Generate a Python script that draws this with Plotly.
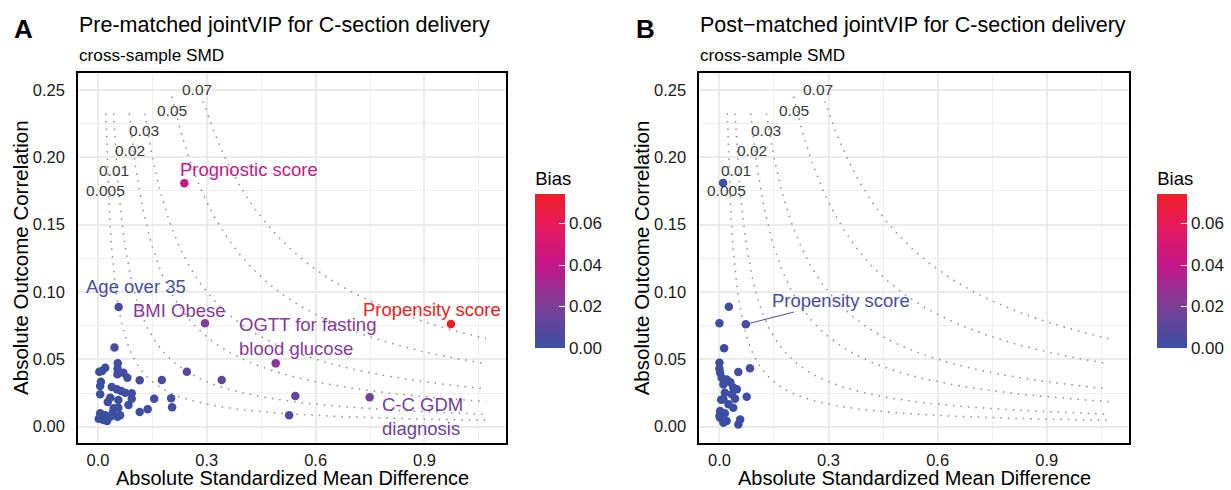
import plotly.graph_objects as go
from plotly.colors import sample_colorscale
import numpy as np

# ---------------- data ----------------
# Panel A (pre-matched): absolute SMD, absolute outcome correlation
smd_pre = [0.238, 0.057, 0.295, 0.490, 0.973, 0.749,
           0.245, 0.341, 0.544, 0.527, 0.0455, 0.176, 0.115, 0.155, 0.2016, 0.2043, 0.137, 0.115,
           0.020, 0.0036, 0.011, 0.0545, 0.0536, 0.070, 0.081, 0.008, 0.006, 0.038, 0.052, 0.064,
           0.075, 0.093, 0.006, 0.034, 0.027, 0.056, 0.093, 0.084, 0.056, 0.043, 0.006, 0.020,
           0.002, 0.025, 0.054, 0.061, 0.034, 0.054, 0.010, 0.015, 0.040]
cor_pre = [0.1807, 0.0889, 0.0768, 0.0470, 0.0763, 0.0218,
           0.0408, 0.0347, 0.0228, 0.0085, 0.0587, 0.0347, 0.0344, 0.0208, 0.0211, 0.0144, 0.0129, 0.0109,
           0.0438, 0.0408, 0.0413, 0.0470, 0.0389, 0.0401, 0.0364, 0.0334, 0.0302, 0.0295, 0.0277, 0.0265,
           0.0252, 0.0248, 0.0240, 0.0215, 0.0183, 0.0198, 0.0208, 0.0161, 0.0141, 0.0136, 0.0099, 0.0084,
           0.0059, 0.0042, 0.0074, 0.0084, 0.0074, 0.0430, 0.0070, 0.0050, 0.0100]
labels_pre = ["Prognostic score", "Age over 35", "BMI Obese", "OGTT for fasting<br>blood glucose",
              "Propensity score", "C-C GDM<br>diagnosis"]

# Panel B (post-matched)
smd_post = [0.010, 0.0725, 0.026, 0.000, 0.013,
            0.000, 0.000, 0.002, 0.052, 0.084, 0.006, 0.020, 0.011, 0.038, 0.048, 0.015, 0.034,
            0.075, 0.011, 0.043, 0.025, 0.038, 0.002, 0.015, 0.002, 0.020, 0.057, 0.052, 0.011,
            0.000, 0.030, 0.005]
cor_post = [0.1810, 0.0760, 0.0891, 0.0768, 0.0582,
            0.0475, 0.0430, 0.0400, 0.0406, 0.0434, 0.0364, 0.0351, 0.0314, 0.0290, 0.0277, 0.0252, 0.0240,
            0.0223, 0.0203, 0.0208, 0.0166, 0.0141, 0.0116, 0.0099, 0.0067, 0.0042, 0.0054, 0.0017, 0.0030,
            0.0080, 0.0330, 0.0200]
labels_post = ["Propensity score"]

bias_levels = ["0.005", "0.01", "0.02", "0.03", "0.05", "0.07"]
x_ticks = [0.0, 0.3, 0.6, 0.9]
y_ticks = [0.00, 0.05, 0.10, 0.15, 0.20, 0.25]
cbar_ticks = [0.00, 0.02, 0.04, 0.06]

# ---------------- styling ----------------
FONT = "Liberation Sans, Arial, Helvetica, sans-serif"
W, H = 1231, 490
colorscale = [[0.0, "#3A4FA2"], [0.27, "#7B3F98"], [0.54, "#C5168A"], [0.80, "#E8195A"], [1.0, "#EE2024"]]

bias_pre = [a * b for a, b in zip(smd_pre, cor_pre)]
bias_post = [a * b for a, b in zip(smd_post, cor_post)]
cmax = max(bias_pre)

def col(b):
    return sample_colorscale(colorscale, [min(max(b / cmax, 0), 1)])[0]

xrange_ = [-0.055, 1.125]
yrange_ = [-0.0119, 0.2628]
curve_top = [0.2325, 0.2325, 0.2325, 0.2325, 0.245, 0.2415]
curve_end = 1.07
label_y = [0.175, 0.19, 0.205, 0.22, 0.235, 0.25]

# pixel layout
ax_px = [(78.3, 507.7), (701.7, 1132.3)]
top_px, bot_px = 72.7, 442.7

fig = go.Figure()

for p, (smd, cor, bias) in enumerate([(smd_pre, cor_pre, bias_pre), (smd_post, cor_post, bias_post)]):
    xa = "x" if p == 0 else "x2"
    ya = "y" if p == 0 else "y2"
    # bias contour curves
    for i, lev in enumerate(bias_levels):
        b = float(lev)
        xs = np.linspace(b / curve_top[i], curve_end, 200)
        fig.add_trace(go.Scatter(x=xs, y=b / xs, mode="lines", xaxis=xa, yaxis=ya,
                                 line=dict(color="#8f8f8f", width=1.5, dash="1.5px,6px"),
                                 hoverinfo="skip", showlegend=False))
        fig.add_annotation(x=b / label_y[i], y=label_y[i], xref=xa, yref=ya, text=lev,
                           showarrow=False, xshift=-3, xanchor="center", yanchor="middle",
                           font=dict(family=FONT, size=15.5, color="#3a3a3a"))
    fig.add_trace(go.Scatter(x=smd, y=cor, mode="markers", xaxis=xa, yaxis=ya,
                             marker=dict(size=8.5, color=bias,
                                         coloraxis="coloraxis" if p == 0 else "coloraxis2"),
                             showlegend=False))

# point labels, panel A
lab_pos_pre = [(0.415, 0.1906, "center"), (0.106, 0.104, "center"), (0.225, 0.0861, "center"),
               (0.3845, 0.0666, "left"), (0.9214, 0.0872, "center"), (0.7764, 0.0074, "left")]
for i, txt in enumerate(labels_pre):
    lx, ly, anc = lab_pos_pre[i]
    fig.add_annotation(x=lx, y=ly, xref="x", yref="y", text=txt, showarrow=False,
                       xanchor=anc, yanchor="middle", align="left",
                       font=dict(family=FONT, size=18.5, color=col(bias_pre[i])))

# point label, panel B (with connector)
pc = col(bias_post[1])
fig.add_annotation(x=smd_post[1], y=cor_post[1], xref="x2", yref="y2",
                   ax=0.334, ay=0.094, axref="x2", ayref="y2",
                   text=labels_post[0], showarrow=True, arrowhead=0, arrowwidth=1,
                   arrowcolor=pc, standoff=4,
                   font=dict(family=FONT, size=18.5, color=pc))

def px2x(px):
    return px / W

def px2y(py):
    return 1 - py / H

axis_common = dict(showline=True, mirror=True, linecolor="black", linewidth=1.8,
                   showgrid=True, gridcolor="#EBEBEB", gridwidth=1.5, zeroline=False, ticks="",
                   tickfont=dict(family=FONT, size=16.5, color="#1a1a1a"))

for p in range(2):
    sfx = "" if p == 0 else "2"
    l, r = ax_px[p]
    fig.update_layout(**{
        "xaxis" + sfx: dict(axis_common, domain=[px2x(l), px2x(r)], range=xrange_,
                            tickvals=x_ticks, tickformat=".1f", anchor="y" + sfx,
                            minor=dict(showgrid=True, gridcolor="#EFEFEF", gridwidth=1,
                                       tickvals=[0.15, 0.45, 0.75, 1.05]),
                            ticklabelstandoff=2),
        "yaxis" + sfx: dict(axis_common, domain=[px2y(bot_px), px2y(top_px)], range=yrange_,
                            tickvals=y_ticks, tickformat=".2f", anchor="x" + sfx,
                            minor=dict(showgrid=True, gridcolor="#EFEFEF", gridwidth=1,
                                       tickvals=[0.025, 0.075, 0.125, 0.175, 0.225]),
                            ticklabelstandoff=8),
    })
    cx = (l + r) / 2
    # axis titles
    fig.add_annotation(x=px2x(cx), y=px2y(478), xref="paper", yref="paper",
                       xanchor="center", yanchor="middle",
                       text="Absolute Standardized Mean Difference", showarrow=False,
                       font=dict(family=FONT, size=20, color="black"))
    fig.add_annotation(x=px2x(l - 58), y=px2y((top_px + bot_px) / 2), xref="paper", yref="paper",
                       xanchor="center", yanchor="middle",
                       text="Absolute Outcome Correlation", showarrow=False, textangle=-90,
                       font=dict(family=FONT, size=20.5, color="black"))
    # titles
    title = "Pre-matched jointVIP for C-section delivery" if p == 0 else "Post\u2212matched jointVIP for C-section delivery"
    fig.add_annotation(x=px2x(l - 1), y=px2y(25), xref="paper", yref="paper",
                       xanchor="left", yanchor="middle",
                       text=title, showarrow=False, font=dict(family=FONT, size=21.5, color="black"))
    fig.add_annotation(x=px2x(l - 1), y=px2y(55), xref="paper", yref="paper",
                       xanchor="left", yanchor="middle",
                       text="cross-sample SMD", showarrow=False,
                       font=dict(family=FONT, size=17.2, color="black"))
    fig.add_annotation(x=px2x(24 if p == 0 else 648), y=px2y(29), xref="paper", yref="paper",
                       xanchor="center", yanchor="middle",
                       text="<b>" + ("A" if p == 0 else "B") + "</b>", showarrow=False,
                       font=dict(family=FONT, size=26, color="black"))

cbar_common = dict(thickness=30, len=180, lenmode="pixels", yanchor="middle", y=px2y(258),
                   xanchor="left", tickvals=cbar_ticks, tickformat=".2f",
                   ticks="inside", ticklen=6, tickcolor="white", tickwidth=1,
                   outlinewidth=0, tickfont=dict(family=FONT, size=17, color="#1a1a1a"),
                   title=dict(text="Bias", side="top", font=dict(family=FONT, size=18.5, color="black")),
                   xpad=0, ypad=0)
fig.update_layout(
    width=W, height=H, margin=dict(l=0, r=0, t=0, b=0),
    paper_bgcolor="white", plot_bgcolor="white", showlegend=False,
    coloraxis=dict(colorscale=colorscale, cmin=0, cmax=cmax,
                   colorbar=dict(cbar_common, x=px2x(537))),
    coloraxis2=dict(colorscale=colorscale, cmin=0, cmax=cmax,
                    colorbar=dict(cbar_common, x=px2x(1161))),
)

fig.write_html("out.html")
